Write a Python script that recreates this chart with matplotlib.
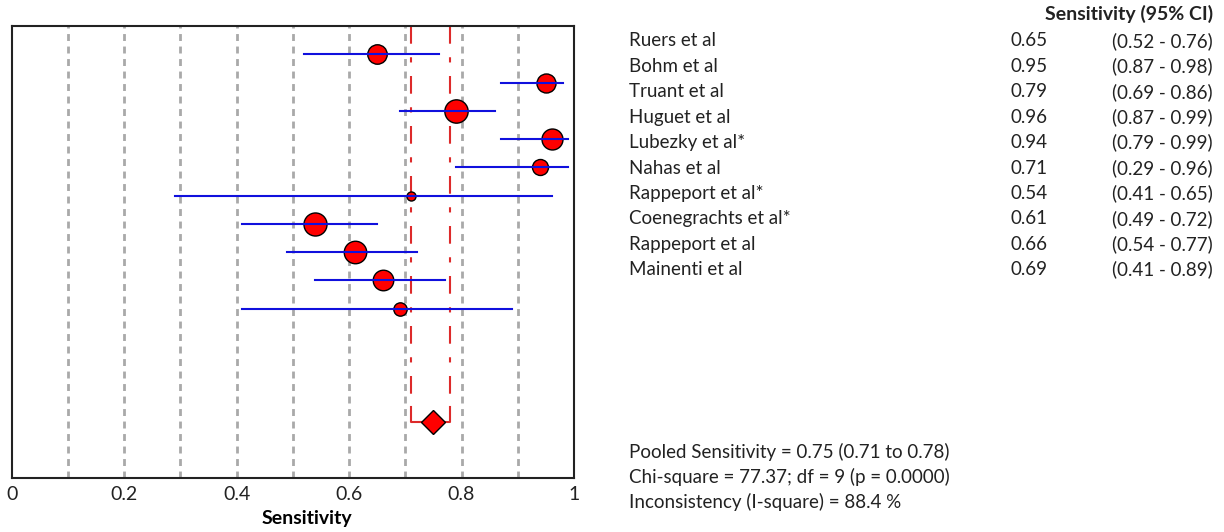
import matplotlib.pyplot as plt

plt.rcParams['font.family'] = ['Lato', 'DejaVu Sans']

# study-level sensitivity with 95% CI
studies = ['Ruers et al', 'Bohm et al', 'Truant et al', 'Huguet et al', 'Lubezky et al*',
           'Nahas et al', 'Rappeport et al*', 'Coenegrachts et al*', 'Rappeport et al',
           'Mainenti et al']
sens = [0.65, 0.95, 0.79, 0.96, 0.94, 0.71, 0.54, 0.61, 0.66, 0.69]
ci_low = [0.52, 0.87, 0.69, 0.87, 0.79, 0.29, 0.41, 0.49, 0.54, 0.41]
ci_high = [0.76, 0.98, 0.86, 0.99, 0.99, 0.96, 0.65, 0.72, 0.77, 0.89]
# marker size per study (study weight)
msize = [14, 13.7, 16.8, 15.1, 11.5, 6.5, 16.6, 16.2, 14.8, 9.6]

pooled = 0.75
pooled_low, pooled_high = 0.71, 0.78
chi2, df, pval, i2 = 77.37, 9, 0.0, 88.4

W, H = 1224, 532
fig = plt.figure(figsize=(W / 100, H / 100), dpi=100)
ax = fig.add_axes([11.8 / W, 1 - 478 / H, (574 - 11.8) / W, (478 - 26) / H])

# vertical reference grid
for g in [0.1, 0.2, 0.3, 0.4, 0.5, 0.6, 0.7, 0.8, 0.9]:
    ax.axvline(g, color='#a9a9a9', lw=2.0, dashes=(2.5, 2.0), zorder=1)

rows = list(range(1, len(studies) + 1))
pooled_row = 14

# pooled CI lines and bracket
for xv in [pooled_low, pooled_high]:
    ax.plot([xv, xv], [0, pooled_row - 0.5], color='#dd2a2a', lw=1.5,
            dashes=(8.5, 6.5, 2.5, 6.5), zorder=2)
ax.plot([pooled_low, pooled_low, pooled_high, pooled_high],
        [pooled_row - 0.5, pooled_row, pooled_row, pooled_row - 0.5],
        color='#dd2a2a', lw=1.5, zorder=2)

for r, s, lo, hi, m in zip(rows, sens, ci_low, ci_high, msize):
    ax.plot(s, r, 'o', ms=m, mfc='red', mec='black', mew=1.0, zorder=3)
    ax.plot([lo, hi], [r, r], color='#1010dd', lw=1.5, zorder=4)

ax.plot(pooled, pooled_row, 'D', ms=12.5, mfc='red', mec='black', mew=1.0, zorder=3)

ax.set_xlim(0, 1)
ax.set_ylim(16, 0)
ax.set_yticks([])
ax.set_xticks([0, 0.2, 0.4, 0.6, 0.8, 1])
ax.set_xticklabels(['0', '0.2', '0.4', '0.6', '0.8', '1'])
ax.tick_params(axis='x', length=0, labelsize=14, pad=6, colors='#222222')
for sp in ax.spines.values():
    sp.set_linewidth(1.5)
    sp.set_color('#222222')
ax.set_xlabel('Sensitivity', fontsize=14, fontweight='bold')
ax.xaxis.set_label_coords(0.525, -0.07)


def fx(px):
    return px / W


def fy(py):
    return 1 - py / H


fs = 13.5
fig.text(fx(1213), fy(14), 'Sensitivity (95% CI)', fontsize=14, fontweight='bold',
         ha='right', va='center', color='#222222')
for i, name in enumerate(studies):
    y = fy(41 + i * 25.4)
    fig.text(fx(629), y, name, fontsize=fs, va='center', color='#222222')
    fig.text(fx(1011), y, f'{sens[i]:.2f}', fontsize=fs, va='center', color='#222222')
    fig.text(fx(1213), y, f'({ci_low[i]:.2f} - {ci_high[i]:.2f})', fontsize=fs,
             ha='right', va='center', color='#222222')

summary = [f'Pooled Sensitivity = {pooled:.2f} ({pooled_low:.2f} to {pooled_high:.2f})',
           f'Chi-square = {chi2:.2f}; df = {df} (p = {pval:.4f})',
           f'Inconsistency (I-square) = {i2:.1f} %']
for i, line in enumerate(summary):
    fig.text(fx(629), fy(452 + i * 25), line, fontsize=fs, va='center', color='#222222')

fig.savefig('out.png', dpi=100)
